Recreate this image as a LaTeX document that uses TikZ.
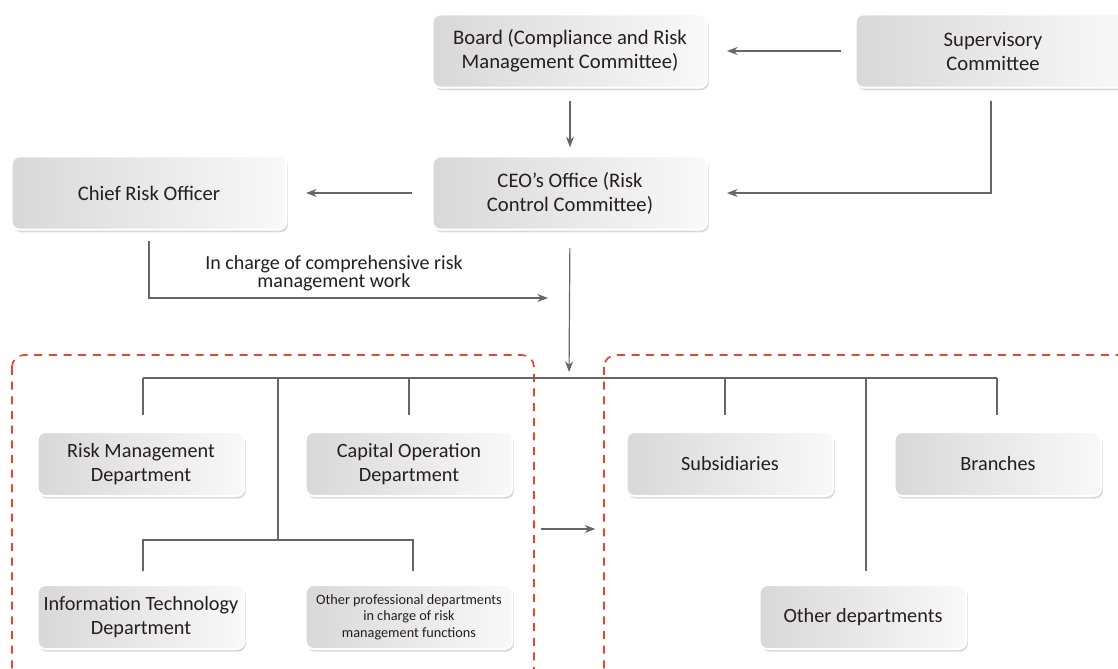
\documentclass[tikz,border=0pt]{standalone}
\usepackage{fontspec}
\setmainfont{Carlito}
\usetikzlibrary{arrows.meta,shadows}

\definecolor{linegray}{HTML}{666666}
\definecolor{zonered}{HTML}{E6462A}
\definecolor{boxleft}{HTML}{D8D8D8}
\definecolor{boxright}{HTML}{F9F9F9}
\definecolor{inkgray}{HTML}{231F20}

\tikzset{
  orgbox/.style={rounded corners=6pt, draw=white, line width=1.5pt,
    left color=boxleft, right color=boxright,
    drop shadow={opacity=0.3, shadow xshift=1.2pt, shadow yshift=-2pt},
    align=center, text=inkgray},
  bigbox/.style={orgbox, minimum width=206pt, minimum height=55pt,
    font=\fontsize{15.5}{18}\selectfont},
  deptbox/.style={orgbox, minimum width=155pt, minimum height=48pt,
    font=\fontsize{15.2}{18}\selectfont},
  smallbox/.style={orgbox, minimum width=155pt, minimum height=48pt,
    font=\fontsize{10.7}{12.4}\selectfont},
  link/.style={draw=linegray, line width=0.9pt},
  arr/.style={link, -{Stealth[length=8pt,width=6pt]}},
  zone/.style={draw=zonered, line width=1.3pt, rounded corners=9pt,
    dash pattern=on 6pt off 5pt}
}

\begin{document}
\begin{tikzpicture}[x=0.75pt,y=-0.75pt]
\useasboundingbox (0,0) rectangle (1118,668);
\clip (0,0) rectangle (1118,668);

% dashed zones
\draw[zone] (12,355) rectangle (534,720);
\draw[zone] (604,355) rectangle (1180,720);
\coordinate (zoneL) at (534,529);
\coordinate (zoneR) at (604,529);

% top levels
\node[bigbox] (board) at (570,51) {Board (Compliance and Risk\\Management Committee)};
\node[bigbox] (sup)   at (993,51) {Supervisory\\Committee};
\node[bigbox] (ceo)   at (570,193) {CEO's Office (Risk\\Control Committee)};
\node[bigbox] (cro)   at (149,193) {Chief Risk Officer};

% departments
\node[deptbox] (rmd)  at (141,464) {Risk Management\\Department};
\node[deptbox] (cap)  at (409,464) {Capital Operation\\Department};
\node[deptbox] (subs) at (730,464) {Subsidiaries};
\node[deptbox] (bra)  at (998,464) {Branches};
\node[deptbox] (it)   at (141,617) {Information Technology\\Department};
\node[smallbox] (oth) at (409,617) {Other professional departments\\in charge of risk\\management functions};
\node[deptbox] (odep) at (863,617) {Other departments};

% arrows between top levels
\draw[arr, shorten <=10pt, shorten >=14pt] (sup.west) -- (board.east |- sup.west);
\draw[arr, shorten <=9pt, shorten >=6pt] (board.south) -- (ceo.north);
\draw[arr, shorten >=14pt] ([xshift=-1.5pt,yshift=-9pt]sup.south) |- (ceo.east);
\draw[arr, shorten <=15pt, shorten >=14pt] (ceo.west) -- (cro.east);

% chief risk officer to work
\coordinate (work) at (548,298);
\draw[arr] ([yshift=-7.5pt]cro.south) |- (work);
\node[font=\fontsize{15}{13.5}\selectfont, text=inkgray, align=center] (worklbl) at (334,273)
  {In charge of comprehensive risk\\management work};

% main bus
\coordinate (bus) at (569,378);
\draw[arr, shorten <=13pt, shorten >=4.5pt] (ceo.south) -- (bus);
\draw[link] (143,378) -- (997,378);
\foreach \b/\x in {rmd/143, cap/409, subs/725, bra/997}
  \draw[link] (\x,378) -- ([yshift=12pt]\b.north -| \x,0);
\draw[link] (866,378) -- ([yshift=10pt]odep.north -| 866,0);

% sub bus
\coordinate (sub) at (278,540);
\draw[link] (278,378) -- (sub);
\draw[link] ([yshift=10pt]it.north -| 143,0) |- (sub) -| ([yshift=10pt]oth.north -| 413,0);

% between zones
\draw[arr, shorten <=5pt, shorten >=6.5pt] (zoneL) -- (zoneR);
\end{tikzpicture}
\end{document}
